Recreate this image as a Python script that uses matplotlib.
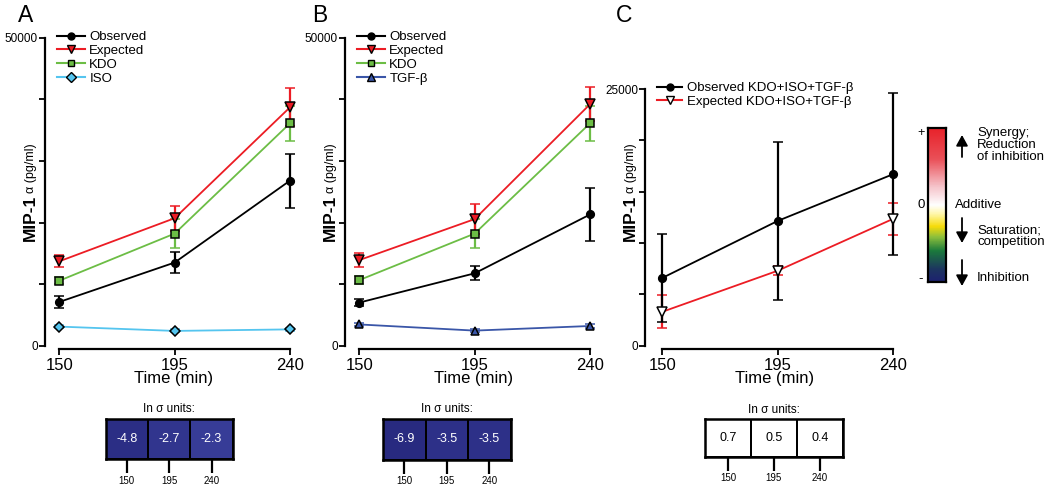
import numpy as np
import matplotlib
matplotlib.use('Agg')
import matplotlib.pyplot as plt
from matplotlib.colors import LinearSegmentedColormap
from matplotlib.lines import Line2D

plt.rcParams['font.family'] = ['Liberation Sans', 'DejaVu Sans']

W, H = 1050, 488

# ---- data ----
times = [150, 195, 240]

a_obs = [7100, 13500, 26800]
a_obs_err = [1000, 1700, 4400]
a_exp = [13700, 20700, 38700]
a_exp_err = [1000, 2000, 3100]
a_kdo = [10550, 18200, 36100]
a_kdo_err = [600, 2300, 2800]
a_iso = [3100, 2400, 2650]
a_iso_err = [250, 250, 250]

b_obs = [7000, 11750, 21300]
b_obs_err = [600, 1150, 4250]
b_exp = [13900, 20550, 39200]
b_exp_err = [1200, 2400, 2800]
b_kdo = [10650, 18200, 36100]
b_kdo_err = [600, 2300, 2800]
b_tgf = [3450, 2450, 3200]
b_tgf_err = [250, 250, 250]

c_obs = [6600, 12150, 16700]
c_obs_err = [4300, 7700, 7900]
c_exp = [3300, 7300, 12350]
c_exp_err = [1600, 450, 1550]

sigma_a = [-4.8, -2.7, -2.3]
sigma_b = [-6.9, -3.5, -3.5]
sigma_c = [0.7, 0.5, 0.4]

BLACK = '#000000'
RED = '#ec1c24'
GREEN = '#6cbd45'
LBLUE = '#55c5ef'
DBLUE = '#3a56a8'

fig = plt.figure(figsize=(W / 100, H / 100), dpi=100)


def px_axes(x0, y0, x1, y1):
    return fig.add_axes([x0 / W, 1 - y1 / H, (x1 - x0) / W, (y1 - y0) / H])


def fx(x):
    return x / W


def fy(y):
    return 1 - y / H


def series(ax, y, err, color, marker, face, ms):
    ax.errorbar(times, y, yerr=err, color=color, lw=1.3, elinewidth=1.6,
                capsize=3.6, capthick=1.6, marker=marker, ms=ms,
                mfc=face, mec='black', mew=1.1, clip_on=False, zorder=3)


def style_axes(ax, x_left_px, x150_px, x240_px, top, ymax_px, y0_px, bottom_px):
    # x limits from pixel positions
    slope = (x240_px - x150_px) / 90.0
    right_px = x240_px + 12
    ax.set_xlim(150 - (x150_px - x_left_px) / slope, 240 + (right_px - x240_px) / slope)
    yslope = (y0_px - ymax_px) / top
    ax.set_ylim(-(bottom_px - y0_px) / yslope, top)
    for s in ['top', 'right']:
        ax.spines[s].set_visible(False)
    ax.spines['left'].set_bounds(0, top)
    ax.spines['bottom'].set_bounds(150, 240)
    ax.spines['left'].set_linewidth(1.6)
    ax.spines['bottom'].set_linewidth(1.6)
    ax.set_xticks(times)
    ax.set_xticklabels([str(t) for t in times], fontsize=12)
    ticks = np.linspace(0, top, 6)
    ax.set_yticks(ticks)
    ax.set_yticklabels(['0', '', '', '', '', str(int(top))], fontsize=8.5)
    ax.tick_params(axis='y', length=4, width=1.3, pad=1)
    ax.tick_params(axis='x', length=4, width=1.3, pad=2)
    ax.set_xlabel('Time (min)', fontsize=12, labelpad=-1)
    ax.patch.set_alpha(0)


def ylabel(xc, y_bottom):
    fig.text(fx(xc), fy(y_bottom), 'MIP-1', rotation=90, fontsize=12.5,
             fontweight='bold', ha='center', va='bottom')
    fig.text(fx(xc + 1), fy(y_bottom - 48), '\u03b1 (pg/ml)', rotation=90,
             fontsize=9, ha='center', va='bottom')


# ---- panel A ----
axA = px_axes(45, 37.7, 302, 349.4)
style_axes(axA, 45, 59.3, 290, 50000, 37.7, 345.7, 349.4)
series(axA, a_iso, a_iso_err, LBLUE, 'D', LBLUE, 5.5)
series(axA, a_obs, a_obs_err, BLACK, 'o', BLACK, 5.5)
series(axA, a_kdo, a_kdo_err, GREEN, 's', GREEN, 6)
series(axA, a_exp, a_exp_err, RED, 'v', RED, 6.5)
hA = [Line2D([], [], color=BLACK, lw=1.5, marker='o', ms=5, mfc=BLACK, mec='black'),
      Line2D([], [], color=RED, lw=1.5, marker='v', ms=6, mfc=RED, mec='black'),
      Line2D([], [], color=GREEN, lw=1.5, marker='s', ms=5, mfc=GREEN, mec='black'),
      Line2D([], [], color=LBLUE, lw=1.5, marker='D', ms=5, mfc=LBLUE, mec='black')]
axA.legend(hA, ['Observed', 'Expected', 'KDO', 'ISO'], loc='upper left',
           bbox_to_anchor=(fx(57), fy(31)), bbox_transform=fig.transFigure,
           frameon=False, fontsize=9.5, handlelength=2.1, handletextpad=0.35,
           labelspacing=0.12, borderpad=0, borderaxespad=0)
ylabel(30, 241)

# ---- panel B ----
axB = px_axes(345, 37.7, 602, 349.4)
style_axes(axB, 345, 359.3, 590, 50000, 37.7, 345.7, 349.4)
series(axB, b_tgf, b_tgf_err, DBLUE, '^', DBLUE, 6)
series(axB, b_obs, b_obs_err, BLACK, 'o', BLACK, 5.5)
series(axB, b_kdo, b_kdo_err, GREEN, 's', GREEN, 6)
series(axB, b_exp, b_exp_err, RED, 'v', RED, 6.5)
hB = [Line2D([], [], color=BLACK, lw=1.5, marker='o', ms=5, mfc=BLACK, mec='black'),
      Line2D([], [], color=RED, lw=1.5, marker='v', ms=6, mfc=RED, mec='black'),
      Line2D([], [], color=GREEN, lw=1.5, marker='s', ms=5, mfc=GREEN, mec='black'),
      Line2D([], [], color=DBLUE, lw=1.5, marker='^', ms=6, mfc=DBLUE, mec='black')]
axB.legend(hB, ['Observed', 'Expected', 'KDO', 'TGF-\u03b2'], loc='upper left',
           bbox_to_anchor=(fx(357), fy(31)), bbox_transform=fig.transFigure,
           frameon=False, fontsize=9.5, handlelength=2.1, handletextpad=0.35,
           labelspacing=0.12, borderpad=0, borderaxespad=0)
ylabel(330, 241)

# ---- panel C ----
axC = px_axes(645, 89, 905, 349.4)
style_axes(axC, 645, 662.3, 893.3, 25000, 89, 345.7, 349.4)
series(axC, c_exp, c_exp_err, RED, 'v', 'white', 6.5)
series(axC, c_obs, c_obs_err, BLACK, 'o', BLACK, 5.5)
hC = [Line2D([], [], color=BLACK, lw=1.5, marker='o', ms=5, mfc=BLACK, mec='black'),
      Line2D([], [], color=RED, lw=1.5, marker='v', ms=6, mfc='white', mec='black')]
axC.legend(hC, ['Observed KDO+ISO+TGF-\u03b2', 'Expected KDO+ISO+TGF-\u03b2'],
           loc='upper left', bbox_to_anchor=(fx(657), fy(82)),
           bbox_transform=fig.transFigure, frameon=False, fontsize=9.5,
           handlelength=1.9, handletextpad=0.4, labelspacing=0.12,
           borderpad=0, borderaxespad=0)
ylabel(630, 241)

# panel letters
for letter, xc in [('A', 25.5), ('B', 320), ('C', 624)]:
    fig.text(fx(xc), fy(15), letter, fontsize=16.5, ha='center', va='center')

# ---- colorbar ----
bar_cmap = LinearSegmentedColormap.from_list('syn', [
    (0.0, '#1d2270'), (0.08, '#1d3560'), (0.2, '#1b7a3c'), (0.29, '#8cbf3c'),
    (0.36, '#f7dc0a'), (0.44, '#fff7a8'), (0.5, '#ffffff'), (0.62, '#f6c4cb'),
    (0.8, '#ea5058'), (1.0, '#e8232b')])
cax = px_axes(928, 128, 946, 282)
cax.imshow(np.linspace(1, 0, 200)[:, None], aspect='auto', cmap=bar_cmap,
           extent=[0, 1, 0, 1])
cax.set_xticks([])
cax.set_yticks([])
for s in cax.spines.values():
    s.set_linewidth(1.6)
fig.text(fx(921), fy(133), '+', fontsize=9, ha='center', va='center')
fig.text(fx(921), fy(205), '0', fontsize=9.5, ha='center', va='center')
fig.text(fx(921), fy(279), '-', fontsize=9.5, ha='center', va='center')


def arrow(y_from, y_to):
    fig.add_artist(matplotlib.patches.FancyArrowPatch(
        (fx(962), fy(y_from)), (fx(962), fy(y_to)), transform=fig.transFigure,
        arrowstyle='-|>,head_length=4,head_width=2.2', color='black', lw=1.3,
        mutation_scale=1.6, shrinkA=0, shrinkB=0))


arrow(157, 135)
arrow(218, 243)
arrow(260, 286)
fig.text(fx(977), fy(145), 'Synergy;\nReduction\nof inhibition', fontsize=9.5,
         ha='left', va='center', linespacing=0.95)
fig.text(fx(955), fy(205), 'Additive', fontsize=9.5, ha='left', va='center')
fig.text(fx(977), fy(236), 'Saturation;\ncompetition', fontsize=9.5,
         ha='left', va='center', linespacing=0.95)
fig.text(fx(977), fy(278), 'Inhibition', fontsize=9.5, ha='left', va='center')

# ---- sigma tables ----
cell_cmap = LinearSegmentedColormap.from_list('cells', [
    (0.0, '#282a80'), (0.29, '#2e3189'), (0.36, '#3d42a0'), (0.43, '#b8bae0'),
    (0.5, '#ffffff'), (0.57, '#ffffff'), (1.0, '#e8232b')])


def sigma_table(vals, x0, x1, y0, y1, title_y):
    ax = px_axes(x0, y0, x1, y1)
    ax.pcolormesh(np.arange(4), [0, 1], np.array([vals]), cmap=cell_cmap,
                  vmin=-7, vmax=7, edgecolor='black', linewidth=1.3)
    for i, v in enumerate(vals):
        ax.text(i + 0.5, 0.5, f'{v:.1f}', ha='center', va='center', fontsize=9,
                color='white' if v < 0 else 'black')
    ax.set_xlim(0, 3)
    ax.set_ylim(0, 1)
    ax.set_yticks([])
    ax.set_xticks([0.5, 1.5, 2.5])
    ax.set_xticklabels([str(t) for t in times], fontsize=7)
    ax.tick_params(axis='x', length=10, width=1.6, pad=2)
    for s in ax.spines.values():
        s.set_linewidth(1.8)
    fig.text(fx((x0 + x1) / 2), fy(title_y), 'In \u03c3 units:', fontsize=8.5,
             ha='center', va='center')


sigma_table(sigma_a, 105.7, 232.7, 419, 459, 409)
sigma_table(sigma_b, 383, 510.7, 419, 459.5, 409)
sigma_table(sigma_c, 705, 842.7, 419, 456.5, 410)

fig.savefig('out.png', dpi=100)
